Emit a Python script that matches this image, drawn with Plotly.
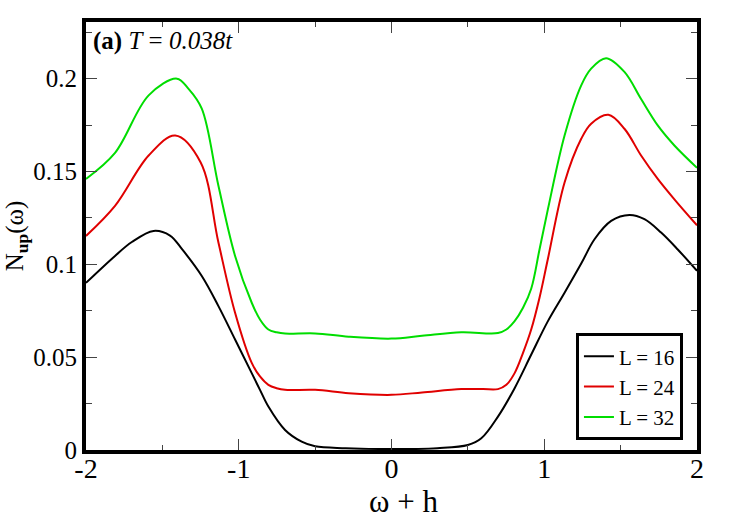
import plotly.graph_objects as go

# omega + h values and N_up(omega)
w16 = [-2.0, -1.81, -1.70, -1.558, -1.45, -1.37, -1.242, -1.133, -1.024, -0.915, -0.861, -0.806,
       -0.697, -0.588, -0.5, -0.3, 0.0, 0.3, 0.5, 0.588, 0.697, 0.806, 0.915, 1.024,
       1.133, 1.242, 1.329, 1.438, 1.558, 1.656, 1.765, 1.874, 2.0]
n16 = [0.090, 0.1045, 0.112, 0.118, 0.1155, 0.108, 0.0937, 0.0775, 0.0595, 0.0414, 0.0324, 0.0234,
       0.0108, 0.0045, 0.002, 0.001, 0.0005, 0.001, 0.0027, 0.0063, 0.018, 0.0333, 0.0514, 0.0694,
       0.0847, 0.1004, 0.1135, 0.1234, 0.1266, 0.1243, 0.1171, 0.108, 0.0965]

w24 = [-2.0, -1.81, -1.59, -1.416, -1.25, -1.133, -1.024, -0.915, -0.861, -0.806, -0.752, -0.697,
       -0.5, -0.28, 0.0, 0.2, 0.457, 0.6, 0.697, 0.752, 0.806, 0.861, 0.915, 0.969, 1.024,
       1.133, 1.242, 1.307, 1.42, 1.525, 1.634, 1.743, 1.852, 2.0]
n24 = [0.1153, 0.1315, 0.1586, 0.1694, 0.155, 0.1117, 0.0739, 0.0469, 0.0396, 0.0351, 0.0333, 0.0324,
       0.0324, 0.0306, 0.0297, 0.031, 0.0328, 0.0328, 0.0328, 0.0351, 0.0414, 0.0523, 0.065, 0.082, 0.103,
       0.1441, 0.1676, 0.1757, 0.1805, 0.173, 0.1586, 0.146, 0.135, 0.121]

w32 = [-2.0, -1.81, -1.59, -1.405, -1.33, -1.242, -1.133, -1.024, -0.915, -0.861, -0.806, -0.752,
       -0.697, -0.5, -0.28, 0.0, 0.2, 0.457, 0.697, 0.752, 0.806, 0.861, 0.915, 0.969, 1.024,
       1.133, 1.242, 1.307, 1.405, 1.525, 1.634, 1.743, 1.852, 2.0]
n32 = [0.146, 0.160, 0.191, 0.200, 0.1946, 0.1838, 0.1423, 0.1045, 0.0793, 0.0703, 0.0649, 0.0634,
       0.0627, 0.0628, 0.061, 0.060, 0.0615, 0.0634, 0.063, 0.0649, 0.0694, 0.0766, 0.087, 0.108, 0.1297,
       0.1694, 0.1964, 0.2054, 0.211, 0.2036, 0.189, 0.1748, 0.164, 0.152]

names = ["L = 16", "L = 24", "L = 32"]
colors = ["#000000", "#e00000", "#00dd00"]

FONT = "'Liberation Serif', 'Times New Roman', Times, serif"

fig = go.Figure()
for xs, ys, nm, c in zip([w16, w24, w32], [n16, n24, n32], names, colors):
    fig.add_trace(go.Scatter(x=xs, y=ys, mode="lines", name=nm,
                             line=dict(color=c, width=2, shape="spline", smoothing=1.0)))

fig.update_layout(
    width=729, height=525,
    margin=dict(l=84, r=32, t=22, b=75),
    plot_bgcolor="white", paper_bgcolor="white",
    font=dict(family=FONT, color="black"),
    showlegend=True,
    legend=dict(x=0.977, y=0.023, xanchor="right", yanchor="bottom",
                bordercolor="black", borderwidth=3, bgcolor="white",
                font=dict(family=FONT, size=21, color="black"),
                tracegroupgap=0, itemwidth=30),
    annotations=[
        dict(text="ω + h", xref="paper", yref="paper", x=0.52, y=-0.12,
             xanchor="center", yanchor="middle", showarrow=False,
             font=dict(family=FONT, size=31, color="black")),
        dict(text="<b>(a)</b> <i>T</i> = <i>0.038t</i>", xref="paper", yref="paper",
             x=0.008, y=0.955, xanchor="left", yanchor="middle", showarrow=False,
             font=dict(family=FONT, size=25, color="black")),
    ],
)

fig.update_xaxes(range=[-2, 2], showgrid=False, zeroline=False,
                 showline=True, linewidth=4, linecolor="black", mirror="ticks",
                 ticks="inside", ticklen=11, tickwidth=1, tickcolor="#444",
                 tickvals=[-2, -1, 0, 1, 2], ticktext=["-2", "-1", "0", "1", "2"],
                 minor=dict(dtick=0.5, ticks="inside", ticklen=5, tickwidth=1, tickcolor="#444"),
                 ticklabelstandoff=-10,
                 tickfont=dict(family=FONT, size=28, color="black"))

fig.update_yaxes(range=[0, 0.2305], showgrid=False, zeroline=False,
                 showline=True, linewidth=4, linecolor="black", mirror="ticks",
                 ticks="inside", ticklen=11, tickwidth=1, tickcolor="#444",
                 tickvals=[0, 0.05, 0.1, 0.15, 0.2], ticktext=["0", "0.05", "0.1", "0.15", "0.2"],
                 minor=dict(dtick=0.025, ticks="inside", ticklen=6, tickwidth=1, tickcolor="#444"),
                 tickfont=dict(family=FONT, size=25, color="black"),
                 title=dict(text="N<sub><b>up</b></sub>(ω)", font=dict(family=FONT, size=25, color="black"),
                            standoff=4))

fig.write_html("out.html", config={"displayModeBar": False},
               post_script="document.body.style.margin='0px';")
